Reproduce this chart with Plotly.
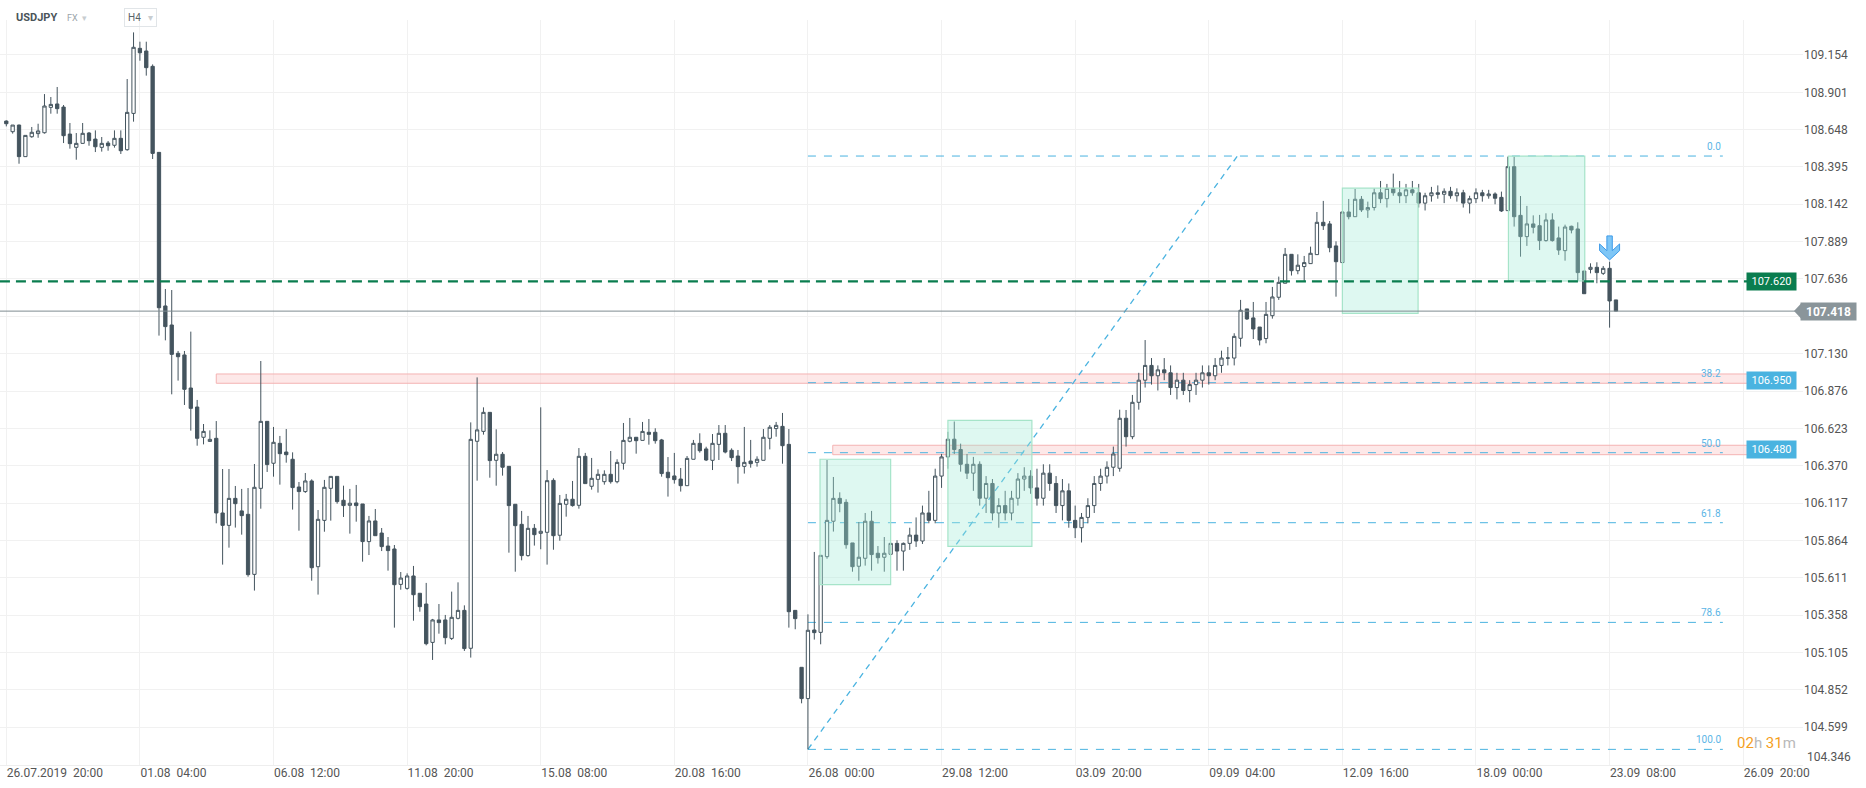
import plotly.graph_objects as go

# H4 candles, index 0 = 26.07.2019 20:00
OPEN = [108.706, 108.634, 108.679, 108.465, 108.600, 108.621, 108.627, 108.799, 108.822, 108.801,
        108.618, 108.528, 108.555, 108.625, 108.584, 108.528, 108.557, 108.542, 108.589, 108.512,
        108.758, 109.199, 109.181, 109.077, 108.494, 107.453, 107.324, 107.132, 107.121, 106.897,
        106.768, 106.563, 106.535, 106.556, 106.050, 105.966, 106.149, 106.064, 106.041, 105.634,
        106.217, 106.671, 106.387, 106.522, 106.463, 106.414, 106.226, 106.195, 106.267, 105.686,
        106.000, 106.217, 106.298, 106.136, 106.102, 106.118, 106.111, 105.856, 105.996, 105.914,
        105.826, 105.806, 105.566, 105.539, 105.623, 105.506, 105.433, 105.173, 105.325, 105.325,
        105.200, 105.336, 105.390, 105.133, 106.536, 106.603, 106.732, 106.407, 106.448, 106.366,
        106.109, 105.973, 105.761, 105.946, 105.912, 105.919, 106.271, 105.899, 106.109, 106.143,
        106.102, 106.434, 106.231, 106.278, 106.262, 106.312, 106.262, 106.387, 106.536, 106.563,
        106.542, 106.597, 106.597, 106.545, 106.326, 106.301, 106.280, 106.235, 106.414, 106.522,
        106.484, 106.407, 106.515, 106.590, 106.475, 106.436, 106.366, 106.402, 106.393, 106.407,
        106.556, 106.622, 106.637, 106.515, 105.390, 105.004, 104.792, 105.257, 105.241, 105.754,
        105.994, 106.149, 106.122, 105.847, 105.689, 105.743, 105.994, 105.777, 105.750, 105.770,
        105.844, 105.792, 105.844, 105.900, 105.860, 106.050, 106.000, 106.300, 106.430, 106.550,
        106.480, 106.380, 106.320, 106.380, 106.150, 106.250, 106.050, 106.100, 106.050, 106.150,
        106.280, 106.300, 106.220, 106.150, 106.320, 106.250, 106.100, 106.200, 106.000, 105.950,
        106.020, 106.100, 106.250, 106.300, 106.360, 106.353, 106.692, 106.567, 106.800, 106.950,
        107.050, 106.980, 107.020, 107.000, 106.900, 106.950, 106.880, 106.920, 106.950, 107.000,
        106.980, 107.050, 107.100, 107.100, 107.234, 107.433, 107.372, 107.310, 107.232, 107.387,
        107.512, 107.607, 107.803, 107.692, 107.720, 107.740, 107.801, 108.020, 108.009, 107.860,
        107.747, 108.090, 108.058, 108.176, 108.104, 108.120, 108.220, 108.180, 108.250, 108.220,
        108.200, 108.240, 108.220, 108.150, 108.200, 108.220, 108.210, 108.230, 108.200, 108.220,
        108.150, 108.180, 108.220, 108.200, 108.212, 108.189, 108.099, 108.397, 108.067, 107.923,
        108.009, 107.997, 107.896, 108.036, 107.914, 107.828, 107.993, 107.975, 107.690, 107.701,
        107.715, 107.674, 107.708, 107.494]
HIGH = [108.711, 108.679, 108.682, 108.609, 108.666, 108.688, 108.889, 108.869, 108.937, 108.815,
        108.693, 108.625, 108.693, 108.632, 108.643, 108.598, 108.571, 108.643, 108.643, 108.991,
        109.307, 109.244, 109.244, 109.090, 108.494, 107.568, 107.561, 107.148, 107.148, 107.279,
        106.816, 106.653, 106.610, 106.673, 106.348, 106.348, 106.233, 106.213, 106.219, 106.382,
        107.080, 106.671, 106.633, 106.572, 106.619, 106.461, 106.260, 106.321, 106.278, 106.070,
        106.274, 106.298, 106.298, 106.235, 106.213, 106.240, 106.111, 106.030, 106.077, 105.948,
        105.887, 105.833, 105.650, 105.641, 105.691, 105.506, 105.576, 105.332, 105.433, 105.359,
        105.517, 105.580, 105.424, 106.664, 106.969, 106.766, 106.732, 106.617, 106.463, 106.366,
        106.109, 106.064, 106.030, 105.975, 106.766, 106.341, 106.285, 106.172, 106.179, 106.267,
        106.490, 106.457, 106.423, 106.346, 106.339, 106.470, 106.414, 106.660, 106.694, 106.563,
        106.667, 106.687, 106.624, 106.552, 106.429, 106.457, 106.355, 106.436, 106.545, 106.590,
        106.499, 106.585, 106.646, 106.646, 106.488, 106.477, 106.633, 106.545, 106.434, 106.619,
        106.646, 106.667, 106.728, 106.619, 105.390, 105.004, 105.363, 105.786, 105.763, 106.409,
        106.294, 106.190, 106.143, 105.847, 105.989, 106.050, 106.064, 105.826, 105.887, 105.844,
        105.865, 105.850, 105.950, 106.020, 106.100, 106.200, 106.350, 106.450, 106.600, 106.670,
        106.520, 106.450, 106.430, 106.400, 106.300, 106.280, 106.150, 106.200, 106.200, 106.320,
        106.360, 106.340, 106.350, 106.380, 106.380, 106.300, 106.280, 106.250, 106.100, 106.050,
        106.150, 106.300, 106.350, 106.400, 106.500, 106.750, 106.748, 106.850, 107.000, 107.222,
        107.100, 107.050, 107.100, 107.050, 107.000, 107.000, 106.950, 107.000, 107.050, 107.050,
        107.100, 107.150, 107.175, 107.268, 107.494, 107.433, 107.480, 107.310, 107.480, 107.582,
        107.652, 107.846, 107.803, 107.803, 107.792, 107.855, 108.090, 108.165, 108.029, 107.891,
        108.090, 108.178, 108.246, 108.198, 108.160, 108.250, 108.300, 108.280, 108.350, 108.300,
        108.280, 108.300, 108.280, 108.220, 108.260, 108.270, 108.250, 108.260, 108.250, 108.240,
        108.200, 108.250, 108.240, 108.240, 108.223, 108.228, 108.465, 108.465, 108.198, 108.131,
        108.067, 108.070, 108.081, 108.081, 107.991, 108.004, 107.997, 108.020, 107.690, 107.742,
        107.749, 107.724, 107.753, 107.494]
LOW = [108.670, 108.621, 108.417, 108.465, 108.593, 108.593, 108.621, 108.756, 108.756, 108.557,
       108.519, 108.444, 108.553, 108.539, 108.496, 108.499, 108.505, 108.526, 108.483, 108.505,
       108.702, 109.115, 109.014, 108.449, 107.252, 107.220, 106.854, 106.947, 106.782, 106.608,
       106.506, 106.515, 106.533, 105.980, 105.700, 105.815, 105.951, 105.903, 105.618, 105.524,
       106.079, 106.328, 106.296, 106.242, 106.391, 106.073, 105.930, 106.186, 105.591, 105.497,
       105.923, 105.998, 106.113, 106.023, 105.910, 105.991, 105.720, 105.765, 105.896, 105.792,
       105.659, 105.273, 105.530, 105.530, 105.320, 105.381, 105.153, 105.054, 105.232, 105.160,
       105.189, 105.329, 105.115, 105.070, 106.269, 106.581, 106.289, 106.235, 106.303, 105.781,
       105.652, 105.729, 105.754, 105.829, 105.804, 105.700, 105.801, 105.862, 106.025, 106.093,
       106.079, 106.249, 106.208, 106.188, 106.242, 106.249, 106.251, 106.344, 106.529, 106.452,
       106.542, 106.513, 106.520, 106.296, 106.161, 106.249, 106.195, 106.235, 106.414, 106.459,
       106.402, 106.341, 106.409, 106.454, 106.402, 106.249, 106.317, 106.357, 106.364, 106.407,
       106.481, 106.567, 106.384, 105.273, 105.262, 104.760, 104.448, 105.192, 105.160, 105.740,
       105.924, 106.055, 105.808, 105.652, 105.591, 105.693, 105.659, 105.707, 105.652, 105.770,
       105.659, 105.659, 105.800, 105.820, 105.840, 105.980, 105.980, 106.220, 106.350, 106.450,
       106.330, 106.280, 106.200, 106.100, 106.050, 106.000, 105.950, 106.000, 106.000, 106.100,
       106.200, 106.180, 106.100, 106.100, 106.200, 106.050, 106.000, 105.950, 105.880, 105.850,
       105.980, 106.050, 106.200, 106.250, 106.300, 106.330, 106.500, 106.550, 106.750, 106.900,
       106.920, 106.880, 106.950, 106.850, 106.820, 106.850, 106.800, 106.850, 106.900, 106.920,
       106.950, 107.000, 107.050, 107.050, 107.177, 107.358, 107.229, 107.186, 107.200, 107.367,
       107.494, 107.607, 107.659, 107.668, 107.616, 107.740, 107.801, 107.968, 107.817, 107.516,
       107.747, 108.040, 108.058, 108.090, 108.050, 108.100, 108.150, 108.120, 108.200, 108.150,
       108.150, 108.200, 108.120, 108.100, 108.160, 108.180, 108.150, 108.180, 108.160, 108.120,
       108.080, 108.150, 108.160, 108.180, 108.142, 108.090, 108.099, 107.991, 107.787, 107.860,
       107.945, 107.832, 107.889, 107.889, 107.799, 107.760, 107.945, 107.622, 107.536, 107.674,
       107.607, 107.663, 107.306, 107.418]
CLOSE = [108.688, 108.679, 108.465, 108.609, 108.630, 108.639, 108.808, 108.819, 108.790, 108.607,
         108.553, 108.555, 108.623, 108.573, 108.532, 108.555, 108.539, 108.589, 108.505, 108.765,
         109.206, 109.169, 109.068, 108.487, 107.441, 107.313, 107.125, 107.109, 106.888, 106.759,
         106.556, 106.603, 106.549, 106.050, 105.966, 106.149, 106.113, 106.032, 105.632, 106.224,
         106.671, 106.378, 106.529, 106.452, 106.445, 106.222, 106.195, 106.267, 105.679, 106.007,
         106.224, 106.298, 106.127, 106.100, 106.116, 106.100, 105.856, 105.996, 105.896, 105.822,
         105.795, 105.564, 105.609, 105.623, 105.496, 105.415, 105.164, 105.325, 105.307, 105.205,
         105.343, 105.390, 105.131, 106.549, 106.613, 106.732, 106.405, 106.448, 106.360, 106.100,
         105.964, 105.761, 105.946, 105.903, 105.926, 106.269, 105.896, 106.115, 106.143, 106.100,
         106.434, 106.249, 106.285, 106.312, 106.312, 106.262, 106.393, 106.542, 106.563, 106.540,
         106.603, 106.583, 106.540, 106.317, 106.289, 106.276, 106.235, 106.420, 106.522, 106.472,
         106.409, 106.522, 106.590, 106.463, 106.425, 106.364, 106.393, 106.384, 106.414, 106.563,
         106.631, 106.644, 106.506, 105.381, 105.334, 104.792, 105.255, 105.239, 105.763, 106.000,
         106.149, 106.115, 105.835, 105.686, 105.750, 105.994, 105.768, 105.747, 105.777, 105.844,
         105.792, 105.844, 105.900, 105.860, 106.050, 106.000, 106.300, 106.430, 106.550, 106.480,
         106.380, 106.320, 106.380, 106.150, 106.250, 106.050, 106.100, 106.050, 106.150, 106.280,
         106.300, 106.220, 106.150, 106.320, 106.250, 106.100, 106.200, 106.000, 105.950, 106.020,
         106.100, 106.250, 106.300, 106.360, 106.450, 106.692, 106.567, 106.800, 106.950, 107.050,
         106.980, 107.020, 107.000, 106.900, 106.950, 106.880, 106.920, 106.950, 107.000, 106.980,
         107.050, 107.100, 107.100, 107.247, 107.424, 107.365, 107.297, 107.222, 107.396, 107.514,
         107.613, 107.803, 107.692, 107.729, 107.747, 107.810, 108.020, 107.997, 107.848, 107.753,
         108.090, 108.058, 108.176, 108.104, 108.120, 108.220, 108.180, 108.250, 108.220, 108.200,
         108.240, 108.220, 108.150, 108.200, 108.220, 108.210, 108.230, 108.200, 108.220, 108.150,
         108.180, 108.220, 108.200, 108.212, 108.183, 108.097, 108.397, 108.058, 107.923, 108.009,
         107.986, 107.896, 108.036, 107.896, 107.832, 107.988, 107.968, 107.679, 107.536, 107.715,
         107.679, 107.708, 107.487, 107.418]

X_TICK_IDX = [0, 21, 42, 63, 84, 105, 126, 147, 168, 189, 210, 231, 252, 273]
X_TICK_TEXT = ["26.07.2019  20:00", "01.08  04:00", "06.08  12:00", "11.08  20:00", "15.08  08:00",
               "20.08  16:00", "26.08  00:00", "29.08  12:00", "03.09  20:00", "09.09  04:00",
               "12.09  16:00", "18.09  00:00", "23.09  08:00", "26.09  20:00"]
Y_TICKS = [104.346, 104.599, 104.852, 105.105, 105.358, 105.611, 105.864, 106.117, 106.370,
           106.623, 106.876, 107.130, 107.383, 107.636, 107.889, 108.142, 108.395, 108.648,
           108.901, 109.154]
Y_TICK_TEXT = ["", "104.599", "104.852", "105.105", "105.358", "105.611", "105.864", "106.117",
               "106.370", "106.623", "106.876", "107.130", "", "107.636", "107.889", "108.142",
               "108.395", "108.648", "108.901", "109.154"]
BOTTOM_TICK = "104.346"

LAST_PRICE = 107.418
SUPPORT_LINE = 107.620
ZONES = [(33.0, 106.929, 106.992, "106.950"), (129.9, 106.445, 106.509, "106.480")]
BOXES = [(127.9, 139.0, 105.564, 106.414), (148.0, 161.2, 105.824, 106.678),
         (210.0, 221.9, 107.403, 108.251), (236.1, 248.1, 107.622, 108.469)]
FIB_LOW, FIB_HIGH = 104.448, 108.469
FIB_START, FIB_END, FIB_DIAG_END = 126.0, 269.8, 193.5
FIB_LEVELS = [0.0, 38.2, 50.0, 61.8, 78.6, 100.0]
SIGNAL_IDX, SIGNAL_PRICE = 252, 107.765
TAG_RIGHT = 274.0

DARK = "#44545e"
BLUE = "#4ab3e0"
GREEN = "#0a7d4f"
FONT = "Roboto"

idx = list(range(len(OPEN)))
fig = go.Figure()
fig.add_trace(go.Candlestick(
    x=idx, open=OPEN, high=HIGH, low=LOW, close=CLOSE,
    increasing=dict(line=dict(color=DARK, width=1), fillcolor="#ffffff"),
    decreasing=dict(line=dict(color=DARK, width=1), fillcolor=DARK),
    whiskerwidth=0, hoverinfo="skip", showlegend=False,
))

shapes = []
for x0, y0, y1, _ in ZONES:
    shapes.append(dict(type="rect", xref="x", yref="y", x0=x0, x1=TAG_RIGHT, y0=y0, y1=y1,
                       fillcolor="rgba(250,205,205,0.45)", line=dict(color="#f4b3b3", width=1),
                       layer="between"))
for lvl in FIB_LEVELS:
    p = FIB_HIGH - (FIB_HIGH - FIB_LOW) * lvl / 100
    shapes.append(dict(type="line", xref="x", yref="y", x0=FIB_START, x1=FIB_END, y0=p, y1=p,
                       line=dict(color=BLUE, width=1, dash="8px,8px"), layer="between"))
shapes.append(dict(type="line", xref="x", yref="y", x0=FIB_START, x1=FIB_DIAG_END, y0=FIB_LOW, y1=FIB_HIGH,
                   line=dict(color=BLUE, width=1.3, dash="6px,5px"), layer="between"))
for x0, x1, y0, y1 in BOXES:
    shapes.append(dict(type="rect", xref="x", yref="y", x0=x0, x1=x1, y0=y0, y1=y1,
                       fillcolor="rgba(160,235,215,0.35)", line=dict(color="#a6e4c9", width=1.2),
                       layer="above"))
shapes.append(dict(type="line", xref="paper", yref="y", x0=0, x1=1, y0=LAST_PRICE, y1=LAST_PRICE,
                   line=dict(color="#7f8b90", width=1), layer="above"))
shapes.append(dict(type="line", xref="x", yref="y", x0=-1, x1=TAG_RIGHT, y0=SUPPORT_LINE, y1=SUPPORT_LINE,
                   line=dict(color=GREEN, width=2.2, dash="10px,6px"), layer="above"))
# signal arrow
shapes.append(dict(type="path", xref="x", yref="y", xsizemode="pixel", ysizemode="pixel",
                   xanchor=SIGNAL_IDX, yanchor=SIGNAL_PRICE,
                   path="M0,0 L-10,9.3 L-10,16 L-2.7,9.2 L-2.7,24 L2.7,24 L2.7,9.2 L10,16 L10,9.3 Z",
                   fillcolor="#7ec6f6", line=dict(color="#3d9be9", width=1), layer="above"))
# last price tag pointer
shapes.append(dict(type="path", xref="paper", yref="y", xsizemode="pixel", ysizemode="pixel",
                   xanchor=1, yanchor=LAST_PRICE, path="M-9,0 L-2,7.5 L-2,-7.5 Z",
                   fillcolor="#8a959a", line=dict(width=0), layer="above"))

ann = []
for _, y0, y1, txt in ZONES:
    ann.append(dict(xref="paper", yref="y", x=1, y=float(txt), xanchor="right", xshift=-6,
                    text=txt, showarrow=False, bgcolor=BLUE, width=47, height=15,
                    font=dict(family=FONT, size=11, color="#ffffff")))
ann.append(dict(xref="paper", yref="y", x=1, y=SUPPORT_LINE, xanchor="right", xshift=-6,
                text=f"{SUPPORT_LINE:.3f}", showarrow=False, bgcolor=GREEN, width=47, height=15,
                font=dict(family=FONT, size=11, color="#ffffff")))
ann.append(dict(xref="paper", yref="y", x=1, y=LAST_PRICE, xanchor="left", xshift=-3,
                text=f"<b>{LAST_PRICE:.3f}</b>", showarrow=False, bgcolor="#8a959a", width=53, height=15,
                font=dict(family=FONT, size=12, color="#ffffff")))
ann.append(dict(xref="paper", yref="y", x=1, y=float(BOTTOM_TICK), xanchor="left", xshift=2,
                yanchor="middle", yshift=7, text=BOTTOM_TICK, showarrow=False,
                font=dict(family=FONT, size=12, color="#555")))
for lvl in FIB_LEVELS:
    p = FIB_HIGH - (FIB_HIGH - FIB_LOW) * lvl / 100
    ann.append(dict(xref="x", yref="y", x=FIB_END, y=p, xanchor="right", yanchor="bottom", yshift=2,
                    text=f"{lvl:.1f}", showarrow=False, font=dict(family=FONT, size=10, color="#5bb5e6")))
# header
ann.append(dict(xref="paper", yref="paper", x=0.0075, y=1.003, xanchor="left", yanchor="middle",
                text="<b>USDJPY</b>", showarrow=False, font=dict(family=FONT, size=11, color="#4a5459")))
ann.append(dict(xref="paper", yref="paper", x=0.036, y=1.003, xanchor="left", yanchor="middle",
                text="FX  <span style='color:#c8cdd0'>▾</span>", showarrow=False,
                font=dict(family=FONT, size=9, color="#9aa4a9")))
ann.append(dict(xref="paper", yref="paper", x=0.0685, y=1.003, xanchor="left", yanchor="middle",
                text="H4   <span style='color:#c8cdd0'>▾</span>", showarrow=False, bordercolor="#e1e5e8",
                borderwidth=1, borderpad=3, font=dict(family=FONT, size=10, color="#5a6469")))
ann.append(dict(xref="paper", yref="paper", x=1, y=0.03, xanchor="right", xshift=-5, yanchor="middle",
                text="<span style='color:#f5a01e'>02</span>h <span style='color:#f5a01e'>31</span>m",
                showarrow=False, font=dict(family=FONT, size=15, color="#b9b9b9")))

fig.update_layout(
    width=1866, height=788,
    margin=dict(l=0, r=63, t=20, b=23),
    paper_bgcolor="#ffffff", plot_bgcolor="#ffffff",
    font=dict(family=FONT, size=12, color="#555"),
    boxgap=0.26,
    shapes=shapes, annotations=ann,
    xaxis=dict(range=[-0.99, 282.4], tickvals=X_TICK_IDX, ticktext=[t.replace("  ", "\u00a0\u00a0") for t in X_TICK_TEXT],
               ticklabelposition="outside right", ticklabelstandoff=-3, showgrid=True, gridcolor="#f1f1f1",
               zeroline=False, rangeslider=dict(visible=False), ticks="", tickfont=dict(size=12, color="#555"),
               showline=True, linecolor="#eeeeee", automargin=False),
    yaxis=dict(range=[104.342, 109.391], side="right", tickvals=Y_TICKS, ticktext=Y_TICK_TEXT,
               showgrid=True, gridcolor="#f1f1f1", zeroline=False, ticks="",
               tickfont=dict(size=12, color="#555"), automargin=False),
)

fig.write_html("out.html", config={"displayModeBar": False},
               post_script="document.body.style.margin='0';document.body.style.overflow='hidden';")
